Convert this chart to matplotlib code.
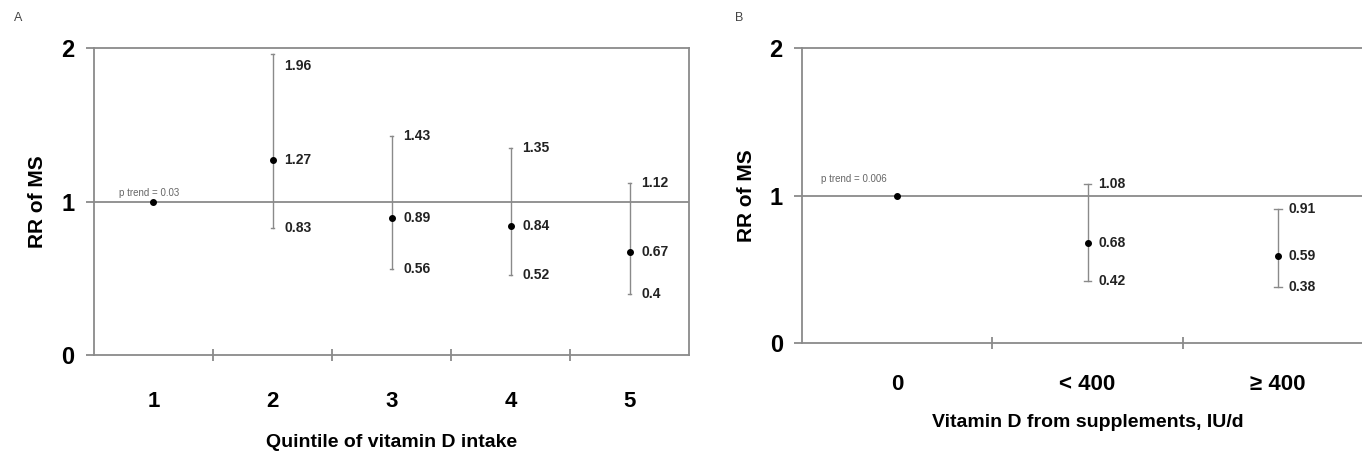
import numpy as np
import matplotlib
matplotlib.use('Agg')
import matplotlib.pyplot as plt

plt.rcParams['font.family'] = ['Liberation Sans', 'DejaVu Sans']

# panel A: quintiles of vitamin D intake
cats_a = ['1', '2', '3', '4', '5']
rr_a = [1.0, 1.27, 0.89, 0.84, 0.67]
lo_a = [np.nan, 0.83, 0.56, 0.52, 0.4]
hi_a = [np.nan, 1.96, 1.43, 1.35, 1.12]
ptrend_a = 'p trend = 0.03'

# panel B: vitamin D from supplements
cats_b = ['0', '< 400', '≥ 400']
rr_b = [1.0, 0.68, 0.59]
lo_b = [np.nan, 0.42, 0.38]
hi_b = [np.nan, 1.08, 0.91]
ptrend_b = 'p trend = 0.006'

LINE = '#8a8a8a'


def fmt(v):
    return '%g' % v if v == round(v, 1) else '%.2f' % v


def draw_panel(ax, cats, rr, lo, hi, ptrend, xlabel, off, cap, pt_dx, pt_y, tpad, lpad):
    n = len(cats)
    x = np.arange(1, n + 1)
    ax.set_xlim(0.5, n + 0.5)
    ax.set_ylim(0, 2)
    ax.axhline(1, color=LINE, lw=1.3, zorder=1)
    ax.axhline(2, color=LINE, lw=1.3, zorder=1, clip_on=False)
    for i in range(n):
        if np.isnan(lo[i]):
            continue
        ax.plot([x[i], x[i]], [lo[i], hi[i]], color=LINE, lw=1.0, zorder=2)
        ax.plot([x[i] - cap, x[i] + cap], [lo[i]] * 2, color=LINE, lw=1.0)
        ax.plot([x[i] - cap, x[i] + cap], [hi[i]] * 2, color=LINE, lw=1.0)
        for v, yy in [(hi[i], min(hi[i], 1.88)), (rr[i], rr[i]), (lo[i], lo[i])]:
            ax.text(x[i] + off, yy, fmt(v), fontsize=10, fontweight='bold',
                    color='#222222', va='center')
    ax.plot(x, rr, 'o', color='black', ms=4, zorder=3, ls='none')
    ax.text(x[0] + pt_dx, pt_y, ptrend, fontsize=7, color='#666666',
            va='bottom', ha='left')

    ax.set_yticks([0, 1, 2])
    ax.set_yticklabels(['0', '1', '2'], fontsize=17, fontweight='bold')
    ax.set_xticks(x)
    ax.set_xticklabels(cats, fontsize=16, fontweight='bold')
    ax.set_xticks(np.arange(1.5, n), minor=True)
    ax.tick_params(axis='x', which='major', length=0, pad=tpad)
    ax.tick_params(axis='x', which='minor', length=8, direction='inout', color=LINE, width=1.3)
    ax.tick_params(axis='y', length=6, color=LINE, width=1.3, pad=8)
    ax.spines['top'].set_visible(False)
    for s in ['left', 'bottom', 'right']:
        ax.spines[s].set_color(LINE)
        ax.spines[s].set_linewidth(1.3)
    ax.set_ylabel('RR of MS', fontsize=15, fontweight='bold', labelpad=10)
    ax.set_xlabel(xlabel, fontsize=14, fontweight='bold', labelpad=lpad)


fig = plt.figure(figsize=(13.62, 4.57), dpi=100)
ax1 = fig.add_axes([0.069, 0.223, 0.437, 0.672])
ax2 = fig.add_axes([0.589, 0.249, 0.419, 0.646])
draw_panel(ax1, cats_a, rr_a, lo_a, hi_a, ptrend_a, 'Quintile of vitamin D intake',
           off=0.1, cap=0.015, pt_dx=-0.29, pt_y=1.02, tpad=26, lpad=16)
draw_panel(ax2, cats_b, rr_b, lo_b, hi_b, ptrend_b, 'Vitamin D from supplements, IU/d',
           off=0.055, cap=0.02, pt_dx=-0.4, pt_y=1.08, tpad=22, lpad=14)
ax2.spines['right'].set_visible(False)
fig.text(0.010, 0.955, 'A', fontsize=9, color='#444444')
fig.text(0.540, 0.955, 'B', fontsize=9, color='#444444')

fig.savefig('out.png', dpi=100, facecolor='white')
